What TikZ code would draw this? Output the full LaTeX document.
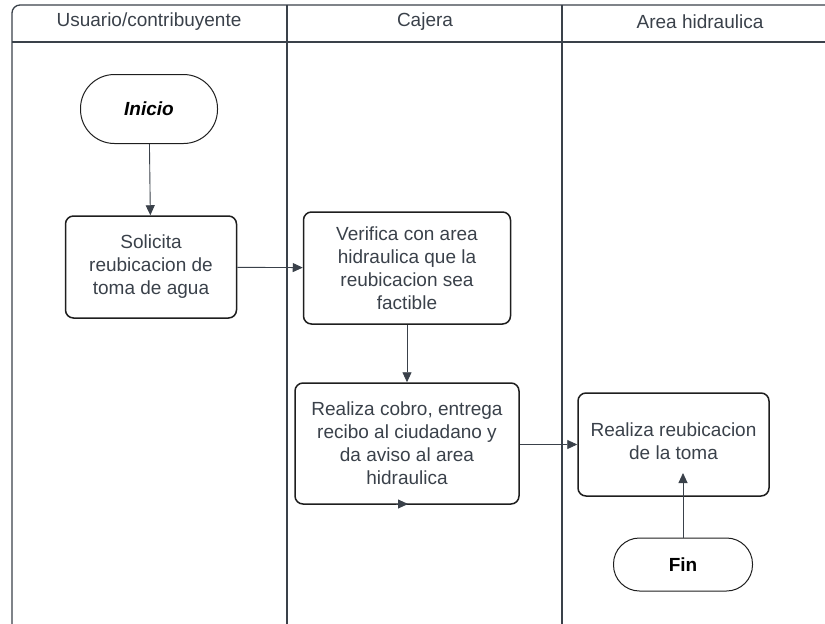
\documentclass[tikz,border=0pt]{standalone}
\usepackage{fontspec}
\setmainfont{Liberation Sans}
\usetikzlibrary{arrows.meta}
\definecolor{ink}{HTML}{3A414A}
\definecolor{edge}{HTML}{1E1E1E}
\tikzstyle{arrow} = [draw=ink,line width=0.9pt,-{Triangle[length=10pt,width=9pt]}]
\tikzstyle{lane} = [draw=ink,line width=1.3pt]
\tikzstyle{process} = [draw=edge,line width=1.5pt,rounded corners=8pt,text=ink,align=center,
	inner sep=0pt,font=\fontsize{19}{23}\selectfont]
\tikzstyle{terminal} = [draw=edge,line width=1pt,text=black,inner sep=0pt,
	font=\fontsize{19}{23}\selectfont\bfseries]
\tikzstyle{header} = [text=ink,font=\fontsize{19}{23}\selectfont]

\begin{document}
\begin{tikzpicture}[x=1pt,y=-1pt]
	\useasboundingbox (0,0) rectangle (825,624);

	% define constants
	\def \xa {12}
	\def \xb {287}
	\def \xc {562}
	\def \xd {838}
	\def \top {5}
	\def \hd {42}

	% Draw the pool
	\draw[lane,rounded corners=8pt] (\xa,624) |- (\xd,\top) -- (\xd,624);
	\draw[lane] (\xa,\hd) -- (\xd,\hd);
	\draw[lane] (\xb,\top) -- (\xb,624);
	\draw[lane] (\xc,\top) -- (\xc,624);

	% Lane titles
	\node[header] (lane1) at (149,22) {Usuario/contribuyente};
	\node[header] (lane2) at (425,22) {Cajera};
	\node[header] (lane3) at (700,22) {Area hidraulica};

	% Steps
	\node[terminal,rounded corners=34pt,minimum width=137pt,minimum height=69pt] (inicio) at (149,109) {\itshape Inicio};
	\node[process,minimum width=171pt,minimum height=102pt] (solicita) at (151,267)
		{Solicita\\reubicacion de\\toma de agua};
	\node[process,minimum width=207pt,minimum height=112pt] (verifica) at (407,268)
		{Verifica con area\\hidraulica que la\\reubicacion sea\\factible};
	\node[process,minimum width=224pt,minimum height=121pt] (cobro) at (407,443.5)
		{Realiza cobro, entrega\\recibo al ciudadano y\\da aviso al area\\hidraulica};
	\node[process,minimum width=191pt,minimum height=103pt] (reubica) at (673.5,444.5) {};
	\node[text=ink,align=center,font=\fontsize{19}{23}\selectfont] (reubicatxt) at (673.5,441)
		{Realiza reubicacion\\de la toma};
	\node[terminal,rounded corners=26pt,minimum width=139pt,minimum height=53pt] (fin) at (683,564.5) {Fin};

	% Free ends
	\coordinate (c1) at (396,504);
	\coordinate (c2) at (408,504);
	\coordinate (c3) at (683,473);

	% Connectors
	\draw[arrow] (inicio) -- (solicita);
	\draw[arrow] (solicita) -- (verifica);
	\draw[arrow] (verifica) -- (cobro);
	\draw[arrow] (cobro.east |- reubica.west) -- (reubica.west);
	\draw[arrow] (c1) -- (c2);
	\draw[arrow] (fin) -- (c3);
\end{tikzpicture}
\end{document}
